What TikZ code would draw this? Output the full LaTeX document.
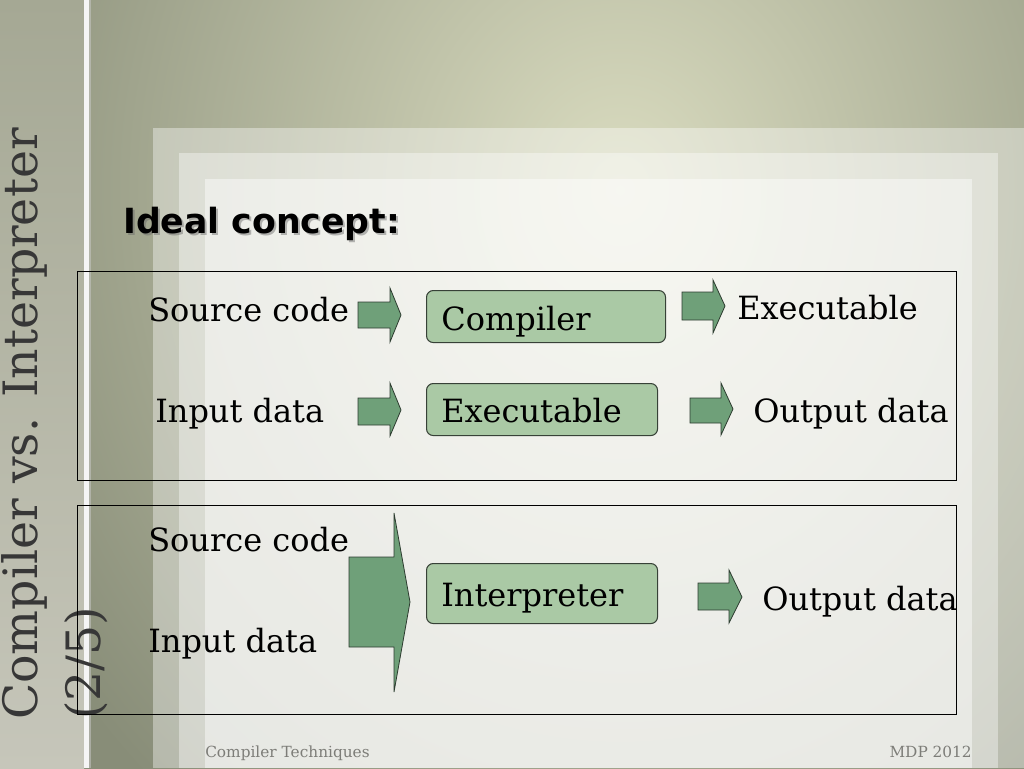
\documentclass[tikz,border=0pt]{standalone}
\usepackage{fontspec}
\setmainfont{DejaVu Serif}
\newfontfamily\headfont{DejaVu Sans}
\newfontfamily\footfont{DejaVu Serif}
\definecolor{arrfill}{RGB}{111,160,121}
\definecolor{arrline}{RGB}{45,60,48}
\definecolor{boxfill}{RGB}{170,201,165}
\definecolor{boxline}{RGB}{55,65,55}
\definecolor{bginner}{RGB}{218,220,192}
\definecolor{bgouter}{RGB}{136,141,120}
\definecolor{titlecol}{RGB}{55,55,55}
\definecolor{footcol}{RGB}{125,125,120}
\begin{document}
\begin{tikzpicture}[x=0.75pt,y=-0.75pt,
  txt/.style={inner sep=0pt, font=\fontsize{24}{28}\selectfont},
  arr/.style={fill=arrfill, draw=arrline, line width=0.6pt, line join=miter},
  box/.style={fill=boxfill, draw=boxline, line width=0.8pt, rounded corners=5pt, inner sep=0pt},
  frame/.style={draw=black, line width=0.8pt, inner sep=0pt},
  panel/.style={fill=white},
  titletxt/.style={rotate=90, anchor=base west, inner sep=0pt, text=titlecol, font=\fontsize{35.5}{38}\selectfont},
  foottxt/.style={inner sep=0pt, text=footcol, font=\footfont\fontsize{11.5}{14}\selectfont}]
\useasboundingbox (0,0) rectangle (1024,768);
\begin{scope}
\clip (0,0) rectangle (1024,768);
\shade[inner color=bginner, outer color=bgouter] (-80,-610) rectangle (1320,990);
\end{scope}
% left strip
\shade[top color={rgb,255:red,165;green,168;blue,148}, bottom color={rgb,255:red,198;green,198;blue,186}] (0,0) rectangle (84,768);
\fill[white!92!gray] (84,0) rectangle (89,768);
\fill[gray!40, opacity=0.5] (89,0) rectangle (91,768);
% panels
\fill[panel, opacity=0.38] (153,128) rectangle (1024,768);
\fill[panel, opacity=0.38] (179,153) rectangle (998,768);
\fill[panel, opacity=0.45] (205,179) rectangle (972,768);
% title
\node[titletxt] (title1) at (37,720) {Compiler vs. Interpreter};
\node[titletxt] (title2) at (100,720) {(2/5)};
% heading
\node[anchor=base west, inner sep=0pt, font=\headfont\bfseries\fontsize{26}{30}\selectfont, text=black!60, opacity=0.45] (headsh) at (125,235) {Ideal concept:};
\node[anchor=base west, inner sep=0pt, font=\headfont\bfseries\fontsize{26}{30}\selectfont] (head) at (123,233) {Ideal concept:};
% frames
\node[frame, minimum width=879*0.75pt, minimum height=209*0.75pt, anchor=north west] (frameA) at (77,271) {};
\node[frame, minimum width=879*0.75pt, minimum height=209*0.75pt, anchor=north west] (frameB) at (77,505) {};
% row 1
\node[txt, anchor=base west] (src1) at (148,321) {Source code};
\draw[arr] (358,302) -- (390,302) -- (390,288) -- (401,315) -- (390,342) -- (390,328) -- (358,328) -- cycle;
\node[box, minimum width=239*0.75pt, minimum height=52*0.75pt, anchor=north west] (compbox) at (426,290) {};
\node[txt, anchor=base west] (comp) at (441,330) {Compiler};
\draw[arr] (682,292) -- (713,292) -- (713,280) -- (725,306) -- (713,333) -- (713,320) -- (682,320) -- cycle;
\node[txt, anchor=base west] (exe1) at (737,319) {Executable};
% row 2
\node[txt, anchor=base west] (in1) at (155,422) {Input data};
\draw[arr] (358,398) -- (390,398) -- (390,383) -- (401,410) -- (390,436) -- (390,425) -- (358,425) -- cycle;
\node[box, minimum width=231*0.75pt, minimum height=52*0.75pt, anchor=north west] (exebox) at (426,383) {};
\node[txt, anchor=base west] (exe2) at (441,422) {Executable};
\draw[arr] (690,398) -- (721,398) -- (721,383) -- (733,409) -- (721,435) -- (721,423) -- (690,423) -- cycle;
\node[txt, anchor=base west] (out1) at (753,422) {Output data};
% interpreter
\node[txt, anchor=base west] (src2) at (148,551) {Source code};
\node[txt, anchor=base west] (in2) at (148,652) {Input data};
\draw[arr] (349,557) -- (394,557) -- (394,513) -- (410,602) -- (394,692) -- (394,647) -- (349,647) -- cycle;
\node[box, minimum width=231*0.75pt, minimum height=60*0.75pt, anchor=north west] (intbox) at (426,563) {};
\node[txt, anchor=base west] (interp) at (441,606) {Interpreter};
\draw[arr] (698,583) -- (729,583) -- (729,570) -- (742,597) -- (729,623) -- (729,610) -- (698,610) -- cycle;
\node[txt, anchor=base west] (out2) at (762,610) {Output data};
% footer
\node[foottxt, anchor=base west] (foot1) at (205,757) {Compiler Techniques};
\node[foottxt, anchor=base east] (foot2) at (972,757) {MDP 2012};
\end{tikzpicture}
\end{document}
